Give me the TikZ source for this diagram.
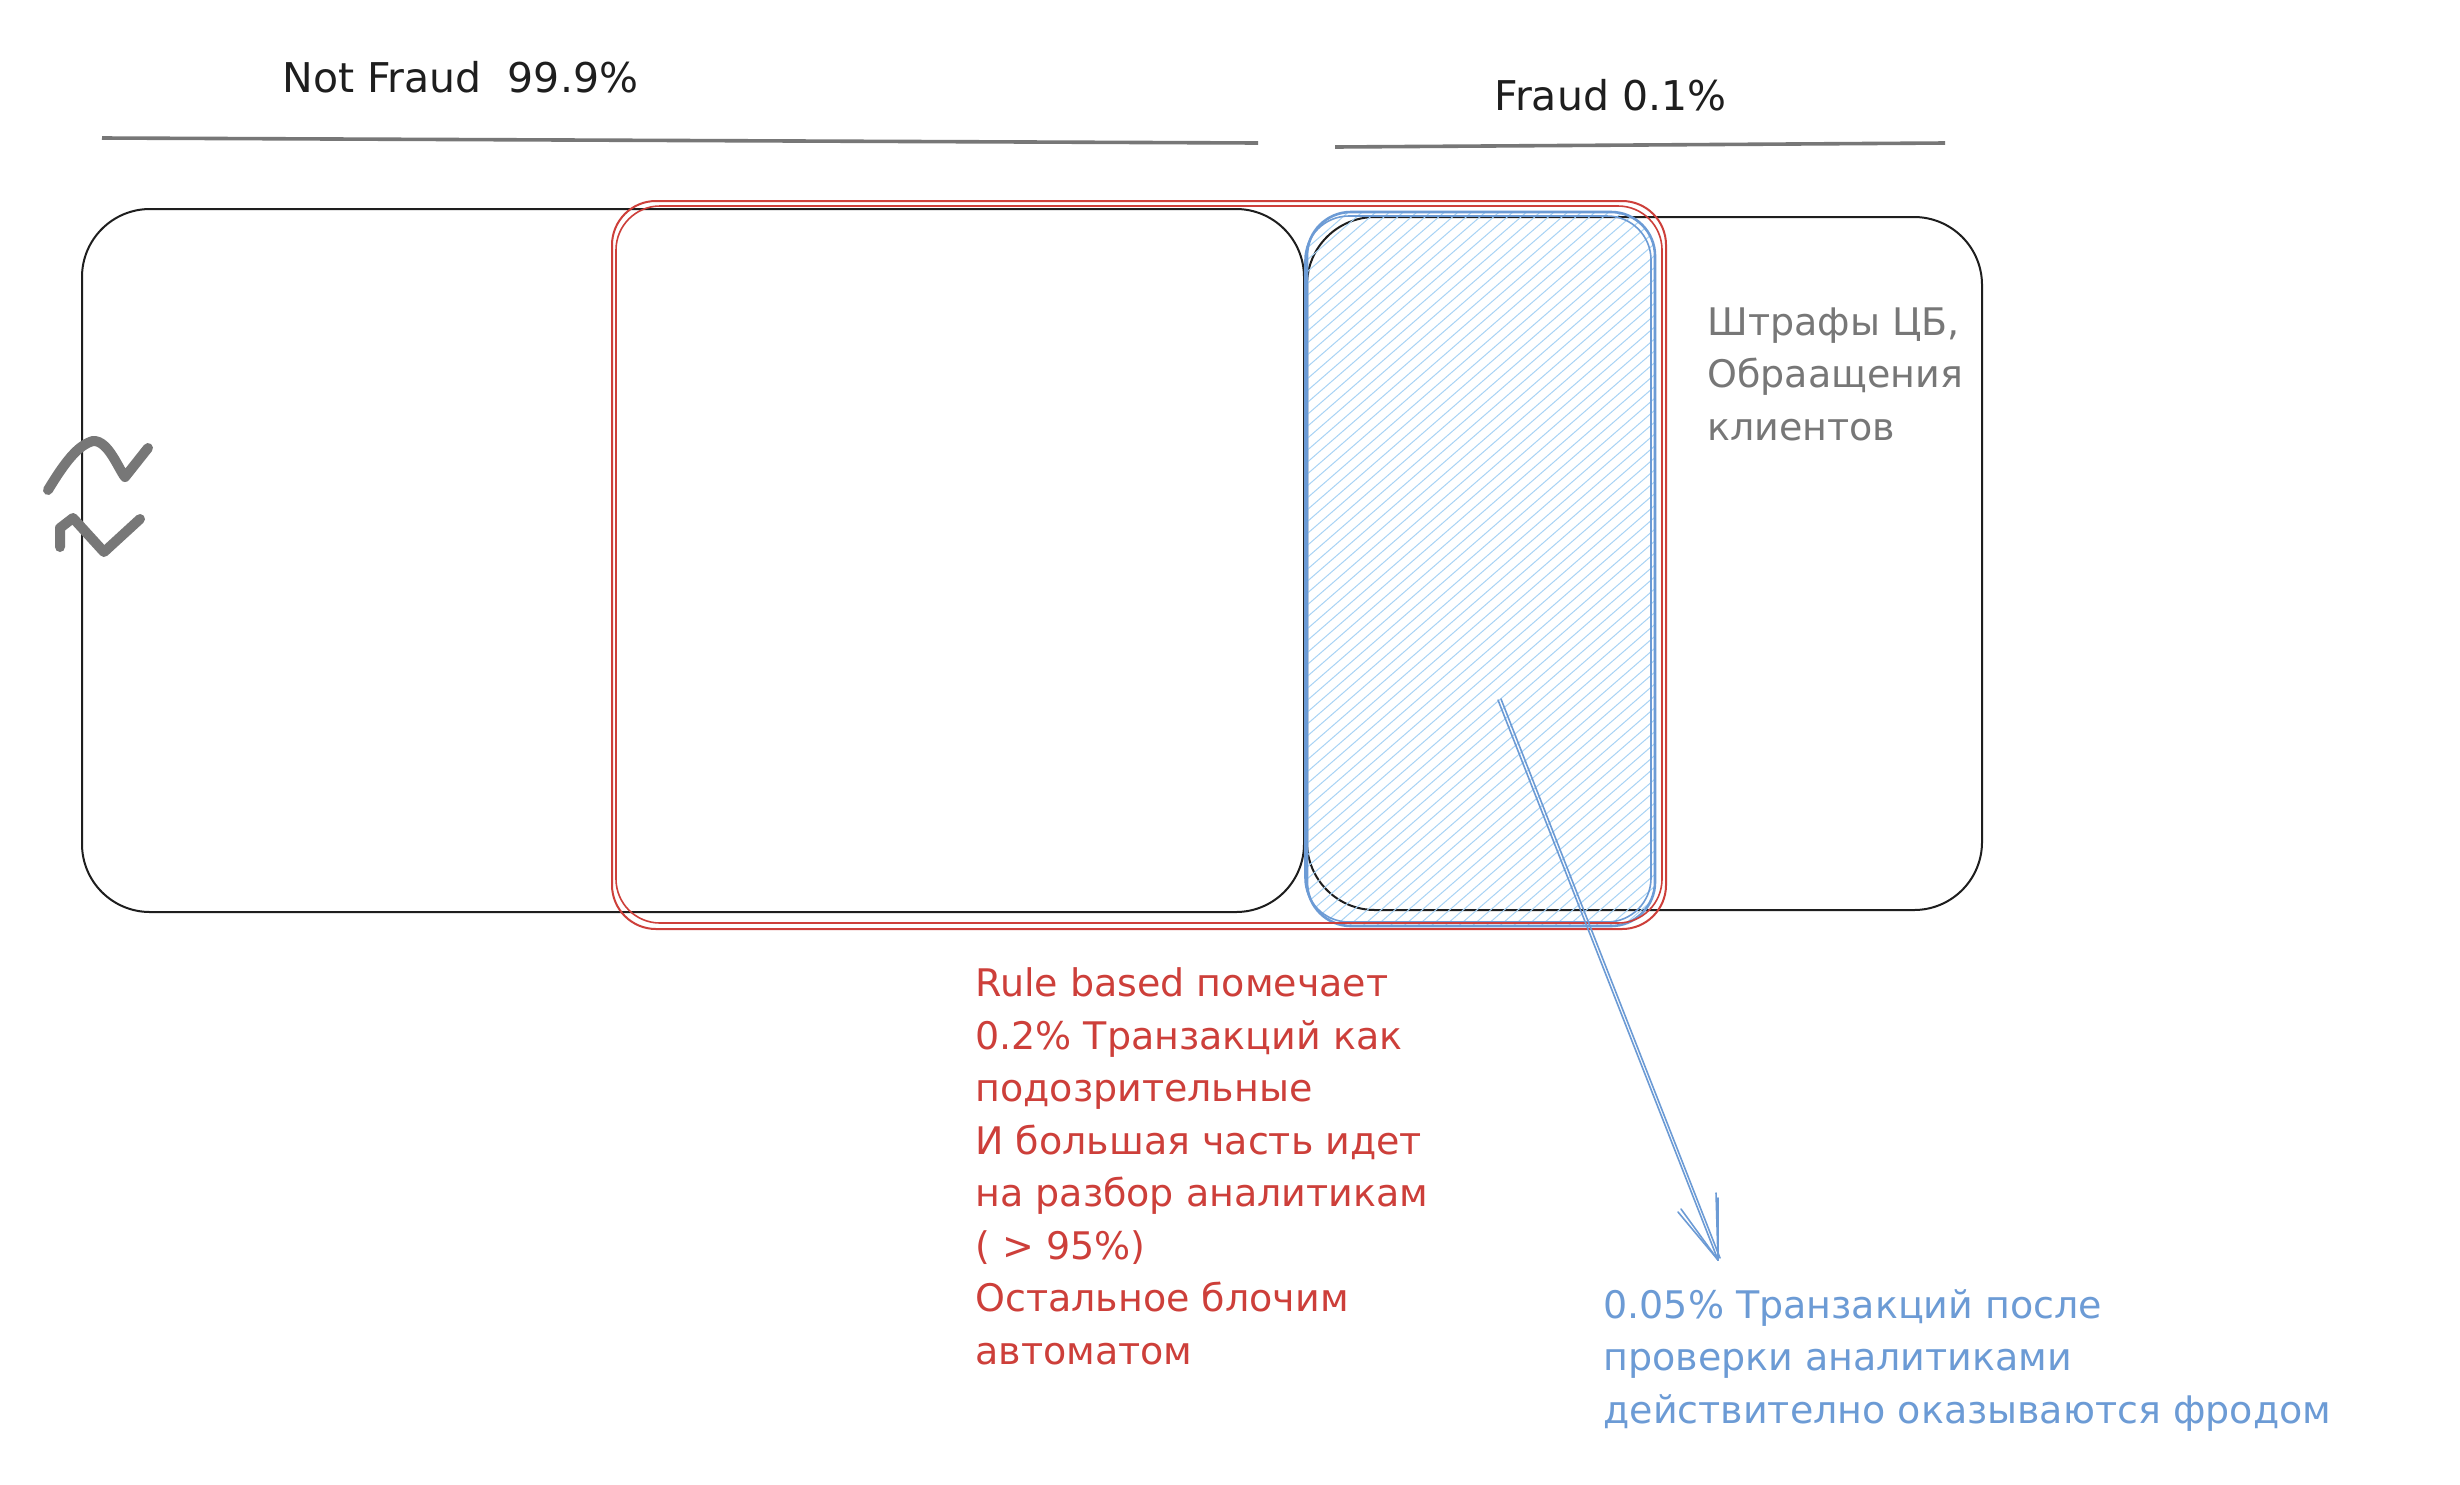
\documentclass[tikz,border=0pt]{standalone}
\usepackage{fontspec}
\setmainfont{DejaVu Sans}
\definecolor{fred}{HTML}{CD3F3A}
\definecolor{fblue}{HTML}{6C9BD5}
\definecolor{fhatch}{HTML}{A8D3F5}
\definecolor{fgray}{HTML}{777777}
\definecolor{fink}{HTML}{1E1E1E}
\begin{document}
\begin{tikzpicture}[x=0.5pt,y=-0.5pt,
  txt/.style={anchor=base west, align=left, inner sep=0pt, font=\fontsize{19}{26.25}\selectfont},
  ttl/.style={anchor=base west, inner sep=0pt, text=fink, font=\fontsize{20.5}{26}\selectfont},
  inkbox/.style={draw=fink, line width=1pt, rounded corners=34pt},
  redbox/.style={draw=fred, line width=1pt, rounded corners=22pt},
  bluebox/.style={draw=fblue, line width=1.3pt, rounded corners=22pt},
  hach/.style={draw=fhatch, line width=0.5pt},
  rule/.style={draw=fgray, line width=1.8pt},
  squig/.style={draw=fgray, line width=5pt, line cap=round, line join=round},
  arr/.style={draw=fblue, line width=0.8pt, line cap=round}]
\useasboundingbox (0,0) rectangle (2460,1484);
\fill[white] (0,0) rectangle (2460,1484);

% titles
\node[ttl] (nf) at (282,92) {Not Fraud\ \ 99.9\%};
\node[ttl] (fr) at (1494,110) {Fraud 0.1\%};
\coordinate (r1a) at (102,138); \coordinate (r1b) at (1258,143);
\coordinate (r2a) at (1335,147); \coordinate (r2b) at (1945,143);
\draw[rule] (r1a) -- (r1b);
\draw[rule] (r2a) -- (r2b);

% black boxes
\coordinate (lb1) at (82,209); \coordinate (lb2) at (1304,912);
\coordinate (rb1) at (1307,217); \coordinate (rb2) at (1982,910);
\draw[inkbox] (lb1) rectangle (lb2);
\draw[inkbox] (rb1) rectangle (rb2);

% blue hatched box
\coordinate (bb1) at (1307,212); \coordinate (bb2) at (1655,926);
\begin{scope}
  \clip[rounded corners=22pt] (bb1) rectangle (bb2);
  \foreach \i in {0,...,90} {
    \draw[hach] ({440+13.7*\i},930) -- ++(900,-782);
  }
\end{scope}
\draw[bluebox] (bb1) rectangle (bb2);
\draw[bluebox, line width=0.8pt] (1305,216) rectangle (1651,922);

% red box (double sketchy stroke)
\coordinate (rd1) at (612,201); \coordinate (rd2) at (1666,929);
\draw[redbox] (rd1) rectangle (rd2);
\draw[redbox, line width=0.8pt] (616,206) rectangle (1662,923);

% squiggles
\draw[squig] (48,490) .. controls (65,462) and (78,445) .. (93,441) .. controls (108,440) and (118,468) .. (125,477) -- (148,448);
\draw[squig] (60,547) -- (60,528) -- (73,518) -- (104,552) -- (140,519);

% gray note (base anchor = last line)
\node[txt, text=fgray] (fines) at (1707,440) {Штрафы ЦБ,\\Обраащения\\клиентов};

% red note
\node[txt, text=fred] (rule) at (975,1364) {Rule based помечает\\0.2\% Транзакций как\\подозрительные\\И большая часть идет\\на разбор аналитикам\\( > 95\%)\\Остальное блочим\\автоматом};

% blue note
\node[txt, text=fblue] (fraud) at (1603,1423) {0.05\% Транзакций после\\проверки аналитиками\\действително оказываются фродом};

% arrow
\coordinate (as) at (1498,700);
\coordinate (at) at (1718,1260);
\draw[arr] (as) -- (at);
\draw[arr] (1501,699) -- (1720,1258);
\draw[arr] (at) -- (1716,1193);
\draw[arr] (at) -- (1718,1198);
\draw[arr] (at) -- (1678,1212);
\draw[arr] (at) -- (1681,1209);
\end{tikzpicture}
\end{document}
